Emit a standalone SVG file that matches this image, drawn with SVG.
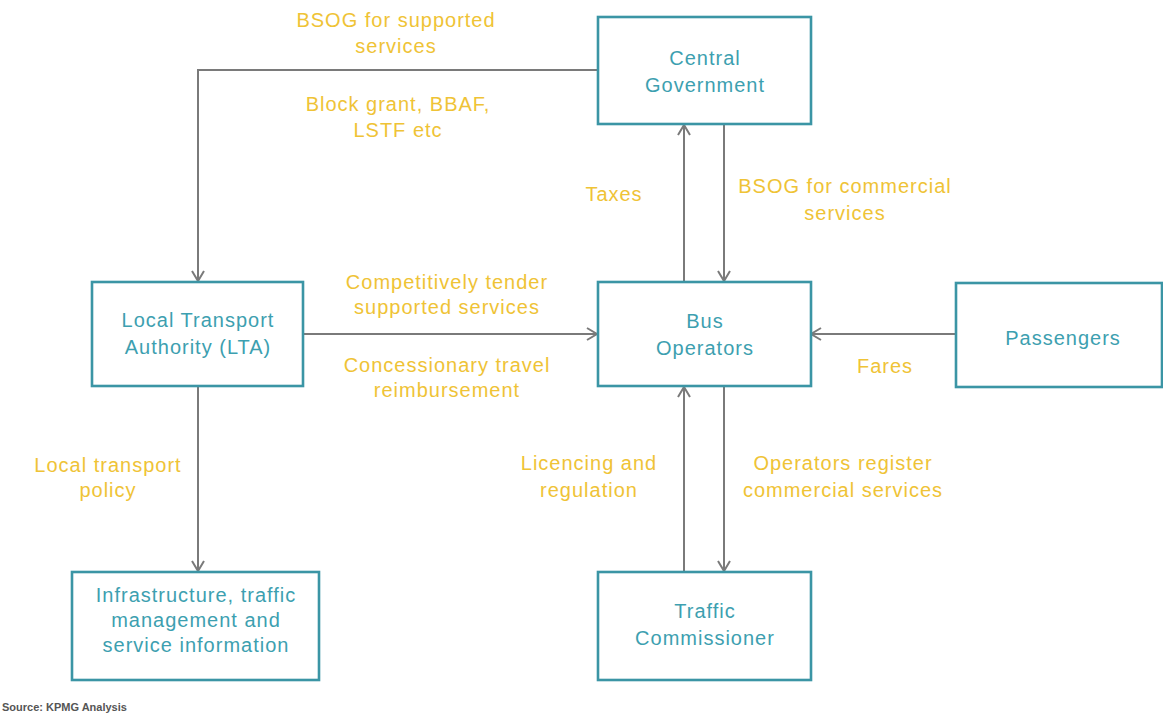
<svg xmlns="http://www.w3.org/2000/svg" width="1163" height="717" viewBox="0 0 1163 717">
<defs>
<style>
.box{fill:#fff;stroke:#3b95a5;stroke-width:2.6}
.nt{font-family:"Liberation Sans",Arial,sans-serif;font-size:20px;fill:#3d9fb0;text-anchor:middle;letter-spacing:1px}
.lb{font-family:"Liberation Sans",Arial,sans-serif;font-size:20px;fill:#efc336;text-anchor:middle;letter-spacing:1px}
.cn{fill:none;stroke:#7a7a7a;stroke-width:2}
.src{font-family:"Liberation Sans",Arial,sans-serif;font-size:11px;fill:#555;font-weight:bold}
</style>
<marker id="ah" viewBox="0 0 14 14" refX="12" refY="7" markerWidth="14" markerHeight="14" markerUnits="userSpaceOnUse" orient="auto">
<polyline points="2,1 12,7 2,13" fill="none" stroke="#7a7a7a" stroke-width="2"/>
</marker>
</defs>
<rect width="1163" height="717" fill="#fff"/>
<g id="connectors">
<polyline class="cn" points="598,70 198,70 198,281" marker-end="url(#ah)"/>
<line class="cn" x1="684" y1="282" x2="684" y2="125" marker-end="url(#ah)"/>
<line class="cn" x1="724" y1="124" x2="724" y2="281" marker-end="url(#ah)"/>
<line class="cn" x1="303" y1="334" x2="597" y2="334" marker-end="url(#ah)"/>
<line class="cn" x1="956" y1="334" x2="811" y2="334" marker-end="url(#ah)"/>
<line class="cn" x1="198" y1="386" x2="198" y2="571" marker-end="url(#ah)"/>
<line class="cn" x1="684" y1="572" x2="684" y2="387" marker-end="url(#ah)"/>
<line class="cn" x1="724" y1="386" x2="724" y2="571" marker-end="url(#ah)"/>
</g>
<g id="labels">
<text class="lb" x="396" y="27">BSOG for supported</text>
<text class="lb" x="396" y="53">services</text>
<text class="lb" x="398" y="111">Block grant, BBAF,</text>
<text class="lb" x="398" y="137">LSTF etc</text>
<text class="lb" x="614" y="201">Taxes</text>
<text class="lb" x="845" y="193">BSOG for commercial</text>
<text class="lb" x="845" y="220">services</text>
<text class="lb" x="447" y="289">Competitively tender</text>
<text class="lb" x="447" y="314">supported services</text>
<text class="lb" x="447" y="372">Concessionary travel</text>
<text class="lb" x="447" y="397">reimbursement</text>
<text class="lb" x="885" y="373">Fares</text>
<text class="lb" x="108" y="472">Local transport</text>
<text class="lb" x="108" y="497">policy</text>
<text class="lb" x="589" y="470">Licencing and</text>
<text class="lb" x="589" y="497">regulation</text>
<text class="lb" x="843" y="470">Operators register</text>
<text class="lb" x="843" y="497">commercial services</text>
</g>
<g id="central-government">
<rect class="box" x="598" y="17" width="213" height="107"/>
<text class="nt" x="705" y="65">Central</text>
<text class="nt" x="705" y="92">Government</text>
</g>
<g id="lta">
<rect class="box" x="92" y="282" width="211" height="104"/>
<text class="nt" x="198" y="327">Local Transport</text>
<text class="nt" x="198" y="354">Authority (LTA)</text>
</g>
<g id="bus-operators">
<rect class="box" x="598" y="282" width="213" height="104"/>
<text class="nt" x="705" y="328">Bus</text>
<text class="nt" x="705" y="355">Operators</text>
</g>
<g id="passengers">
<rect class="box" x="956" y="283" width="206" height="104"/>
<text class="nt" x="1063" y="345">Passengers</text>
</g>
<g id="infrastructure">
<rect class="box" x="72" y="572" width="247" height="108"/>
<text class="nt" x="196" y="602">Infrastructure, traffic</text>
<text class="nt" x="196" y="627">management and</text>
<text class="nt" x="196" y="652">service information</text>
</g>
<g id="traffic-commissioner">
<rect class="box" x="598" y="572" width="213" height="108"/>
<text class="nt" x="705" y="618">Traffic</text>
<text class="nt" x="705" y="645">Commissioner</text>
</g>
<text class="src" x="2" y="711">Source: KPMG Analysis</text>
</svg>
